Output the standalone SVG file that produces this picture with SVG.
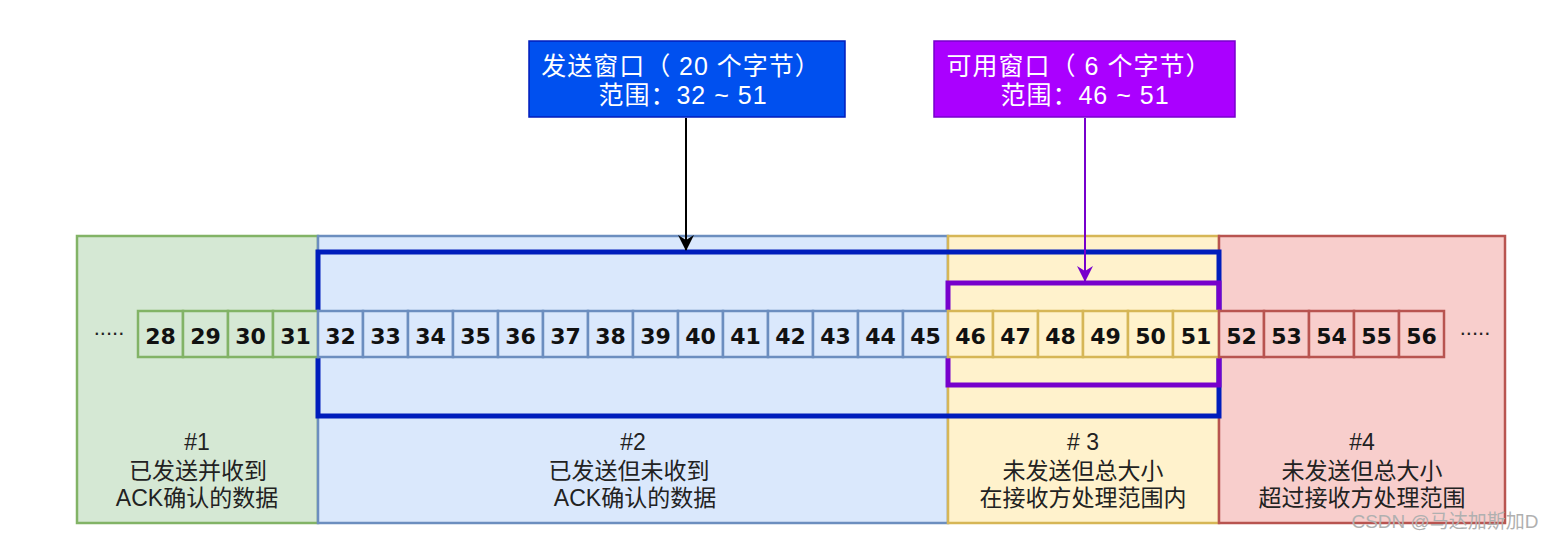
<svg xmlns="http://www.w3.org/2000/svg" width="1553" height="540" viewBox="0 0 1553 540">
<defs>
<style>
.lbl{font-family:"Liberation Sans","Noto Sans CJK SC",sans-serif;font-size:23px;fill:#222;text-anchor:middle}
.hdr{font-family:"Liberation Sans","Noto Sans CJK SC",sans-serif;font-size:25px;fill:#fff;text-anchor:middle;letter-spacing:1px}
.num{font-family:"DejaVu Sans",sans-serif;font-weight:bold;font-size:22px;fill:#111;text-anchor:middle}
.g{fill:#d5e8d4;stroke:#82b366;stroke-width:2.5}
.b{fill:#dae8fc;stroke:#6c8ebf;stroke-width:2.5}
.y{fill:#fff2cc;stroke:#d6b656;stroke-width:2.5}
.r{fill:#f8cecc;stroke:#b85450;stroke-width:2.5}
.dots{font-family:"Liberation Sans",sans-serif;font-size:22px;fill:#222;text-anchor:middle}
</style>
<marker id="ap" viewBox="0 0 16 16" refX="15" refY="8" markerWidth="16" markerHeight="16" markerUnits="userSpaceOnUse" orient="auto">
<path d="M0,0 L16,8 L0,16 L5,8 Z" fill="#7700cc"/>
</marker>
<marker id="ak" viewBox="0 0 16 16" refX="15" refY="8" markerWidth="16" markerHeight="16" markerUnits="userSpaceOnUse" orient="auto">
<path d="M0,0 L16,8 L0,16 L5,8 Z" fill="#000"/>
</marker>
</defs>

<g id="region1"><rect x="77" y="236" width="241" height="287" class="g"/></g>
<g id="region2"><rect x="318" y="236" width="630" height="287" class="b"/></g>
<g id="region3"><rect x="948" y="236" width="271" height="287" class="y"/></g>
<g id="region4"><rect x="1219" y="236" width="286" height="287" class="r"/></g>

<g id="send-window-frame"><rect x="318" y="252" width="901" height="164" fill="none" stroke="#001dbc" stroke-width="5"/></g>
<g id="usable-window-frame"><rect x="948" y="283" width="271" height="102" fill="none" stroke="#7700cc" stroke-width="5"/></g>

<g id="cells">
<g class="g">
<rect x="138" y="311" width="45" height="46"/><rect x="183" y="311" width="45" height="46"/><rect x="228" y="311" width="45" height="46"/><rect x="273" y="311" width="45" height="46"/>
</g>
<g class="b">
<rect x="318" y="311" width="45" height="46"/><rect x="363" y="311" width="45" height="46"/><rect x="408" y="311" width="45" height="46"/><rect x="453" y="311" width="45" height="46"/><rect x="498" y="311" width="45" height="46"/><rect x="543" y="311" width="45" height="46"/><rect x="588" y="311" width="45" height="46"/><rect x="633" y="311" width="45" height="46"/><rect x="678" y="311" width="45" height="46"/><rect x="723" y="311" width="45" height="46"/><rect x="768" y="311" width="45" height="46"/><rect x="813" y="311" width="45" height="46"/><rect x="858" y="311" width="45" height="46"/><rect x="903" y="311" width="45" height="46"/>
</g>
<g class="y">
<rect x="948" y="311" width="45" height="46"/><rect x="993" y="311" width="45" height="46"/><rect x="1038" y="311" width="45" height="46"/><rect x="1083" y="311" width="45" height="46"/><rect x="1128" y="311" width="45" height="46"/><rect x="1173" y="311" width="46" height="46"/>
</g>
<g class="r">
<rect x="1219" y="311" width="45" height="46"/><rect x="1264" y="311" width="45" height="46"/><rect x="1309" y="311" width="45" height="46"/><rect x="1354" y="311" width="45" height="46"/><rect x="1399" y="311" width="45" height="46"/>
</g>
<g class="num">
<text x="160.5" y="344">28</text><text x="205.5" y="344">29</text><text x="250.5" y="344">30</text><text x="295.5" y="344">31</text>
<text x="340.5" y="344">32</text><text x="385.5" y="344">33</text><text x="430.5" y="344">34</text><text x="475.5" y="344">35</text><text x="520.5" y="344">36</text><text x="565.5" y="344">37</text><text x="610.5" y="344">38</text><text x="655.5" y="344">39</text><text x="700.5" y="344">40</text><text x="745.5" y="344">41</text><text x="790.5" y="344">42</text><text x="835.5" y="344">43</text><text x="880.5" y="344">44</text><text x="925.5" y="344">45</text>
<text x="970.5" y="344">46</text><text x="1015.5" y="344">47</text><text x="1060.5" y="344">48</text><text x="1105.5" y="344">49</text><text x="1150.5" y="344">50</text><text x="1196" y="344">51</text>
<text x="1241.5" y="344">52</text><text x="1286.5" y="344">53</text><text x="1331.5" y="344">54</text><text x="1376.5" y="344">55</text><text x="1421.5" y="344">56</text>
</g>
<text class="dots" x="109" y="335">.....</text>
<text class="dots" x="1475" y="335">.....</text>
</g>

<g id="label1" class="lbl"><text x="197" y="450">#1</text><text x="198" y="479">已发送并收到</text><text x="197" y="506">ACK确认的数据</text></g>
<g id="label2" class="lbl"><text x="633" y="450">#2</text><text x="629" y="479">已发送但未收到</text><text x="635" y="506">ACK确认的数据</text></g>
<g id="label3" class="lbl"><text x="1083" y="450"># 3</text><text x="1083" y="479">未发送但总大小</text><text x="1083" y="506">在接收方处理范围内</text></g>
<g id="label4" class="lbl"><text x="1362" y="450">#4</text><text x="1362" y="479">未发送但总大小</text><text x="1362" y="506">超过接收方处理范围</text></g>

<g id="send-window-box">
<rect x="529" y="41" width="316" height="76" fill="#0050ef" stroke="#001dbc" stroke-width="1.5"/>
<text class="hdr" x="681" y="75">发送窗口（ 20 个字节）</text>
<text class="hdr" x="683" y="104">范围：32 ~ 51</text>
</g>
<g id="usable-window-box">
<rect x="934" y="41" width="301" height="76" fill="#aa00ff" stroke="#7700cc" stroke-width="1.5"/>
<text class="hdr" x="1079" y="75">可用窗口（ 6 个字节）</text>
<text class="hdr" x="1085" y="104">范围：46 ~ 51</text>
</g>

<g id="connectors">
<line x1="686" y1="118" x2="686" y2="250" stroke="#000" stroke-width="2" marker-end="url(#ak)"/>
<line x1="1085" y1="118" x2="1085" y2="281" stroke="#7700cc" stroke-width="2" marker-end="url(#ap)"/>
</g>

<text x="1445" y="528" font-family="Liberation Sans,Noto Sans CJK SC,sans-serif" font-size="19" fill="#b0b0b0" text-anchor="middle">CSDN @马达加斯加D</text>
</svg>
